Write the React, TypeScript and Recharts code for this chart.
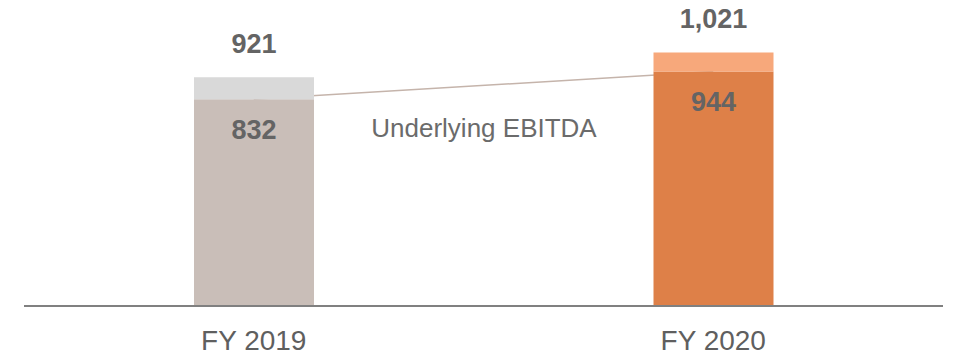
import { ComposedChart, Bar, Line, XAxis, YAxis, Cell, LabelList, Customized } from "recharts";

const categories = ["FY 2019", "FY 2020"];
const underlying = [832, 944];
const totals = [921, 1021];

const baseColors = ["#C9BEB8", "#DE8048"];
const topColors = ["#D9D9D9", "#F7A87B"];

const FONT = '"Liberation Sans", Arial, sans-serif';
const LABEL_GREY = "#646464";
const W = 953;
const H = 358;
const MARGIN = { top: 5, right: 10, left: 24, bottom: 0 };
const DOMAIN: [number, number] = [0, 1212];

const data = categories.map((name, i) => ({
  name,
  base: underlying[i],
  extra: totals[i] - underlying[i],
  total: totals[i],
}));

const EbitdaNote = () => (
  <text x={484} y={137} textAnchor="middle" fontSize={26} fill="#6B6B6B" fontFamily={FONT}>
    Underlying EBITDA
  </text>
);

export default function App() {
  return (
    <div style={{ position: "absolute", left: 0, top: 0, width: W, height: H }}>
      {/* connector sits in its own chart underneath so the bars cover it */}
      <div style={{ position: "absolute", left: 0, top: 0 }}>
        <ComposedChart width={W} height={H} data={data} margin={MARGIN}>
          <XAxis dataKey="name" height={52} tick={false} tickLine={false} axisLine={false} />
          <YAxis hide domain={DOMAIN} />
          {/* invisible bar keeps the band scale identical to the front chart */}
          <Bar dataKey="base" barSize={120} fillOpacity={0} isAnimationActive={false} />
          <Line
            dataKey="base"
            stroke="#C5B4AB"
            strokeWidth={1.5}
            dot={false}
            activeDot={false}
            isAnimationActive={false}
          />
        </ComposedChart>
      </div>
      <div style={{ position: "absolute", left: 0, top: 0 }}>
        <ComposedChart width={W} height={H} data={data} margin={MARGIN}>
          <XAxis
            dataKey="name"
            interval={0}
            height={52}
            tickLine={false}
            tickSize={0}
            tickMargin={24}
            axisLine={{ stroke: "#808080", strokeWidth: 2 }}
            tick={{ fill: "#5F5F5F", fontSize: 28, fontFamily: FONT }}
          />
          <YAxis hide domain={DOMAIN} />
          <Bar dataKey="base" stackId="a" barSize={120} isAnimationActive={false}>
            {data.map((d, i) => (
              <Cell key={d.name} fill={baseColors[i]} />
            ))}
            <LabelList
              dataKey="base"
              position="insideTop"
              offset={20}
              fill={LABEL_GREY}
              fontSize={27}
              fontWeight="bold"
              fontFamily={FONT}
            />
          </Bar>
          <Bar dataKey="extra" stackId="a" barSize={120} isAnimationActive={false}>
            {data.map((d, i) => (
              <Cell key={d.name} fill={topColors[i]} />
            ))}
            <LabelList
              dataKey="total"
              position="top"
              offset={24}
              fill={LABEL_GREY}
              fontSize={27}
              fontWeight="bold"
              fontFamily={FONT}
              formatter={(v: any) => Number(v).toLocaleString("en-US")}
            />
          </Bar>
          <Customized component={EbitdaNote} />
        </ComposedChart>
      </div>
    </div>
  );
}
